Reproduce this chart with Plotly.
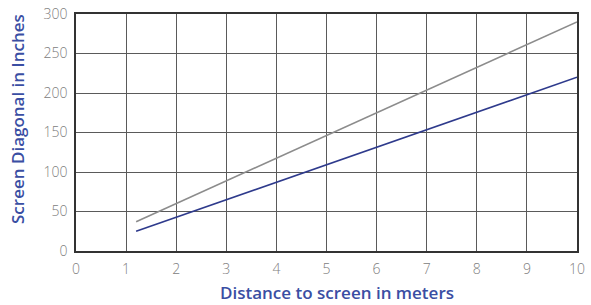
import plotly.graph_objects as go

distance_m = [1.2, 10]
diag_upper = [37, 290]
diag_lower = [25, 220]
x_ticks = [0, 1, 2, 3, 4, 5, 6, 7, 8, 9, 10]
y_ticks = [0, 50, 100, 150, 200, 250, 300]
x_title = "Distance to screen in meters"
y_title = "Screen Diagonal in Inches"

fig = go.Figure()
fig.add_trace(go.Scatter(x=distance_m, y=diag_upper, mode="lines",
                         line=dict(color="#8c8c8c", width=1.6), showlegend=False))
fig.add_trace(go.Scatter(x=distance_m, y=diag_lower, mode="lines",
                         line=dict(color="#2e3a8c", width=1.6), showlegend=False))

title_font = dict(family="Open Sans", size=17, color="#3a4ea3", weight=600)
tick_font = dict(family="Open Sans", size=14, color="#808080", weight=300)

fig.update_layout(
    width=591, height=305,
    margin=dict(l=76, r=14, t=14, b=54),
    paper_bgcolor="white", plot_bgcolor="white",
    xaxis=dict(range=[0, 10], tickvals=x_ticks, showgrid=True, gridcolor="#5a5a5a",
               gridwidth=1, zeroline=False, showline=True, linecolor="#333333",
               linewidth=1.5, mirror=True, ticks="", tickfont=tick_font, automargin=False,
               ticklabelstandoff=4),
    yaxis=dict(range=[0, 300], tickvals=y_ticks, showgrid=True, gridcolor="#5a5a5a",
               gridwidth=1, zeroline=False, showline=True, linecolor="#333333",
               linewidth=1.5, mirror=True, ticks="", tickfont=tick_font, automargin=False,
               ticklabelstandoff=4),
    annotations=[
        dict(text=x_title, font=title_font, xref="paper", yref="paper",
             x=0.521, y=0, yshift=-41, xanchor="center", yanchor="middle", showarrow=False),
        dict(text=y_title, font=title_font, xref="paper", yref="paper", textangle=-90,
             x=0, xshift=-58, y=0.557, xanchor="center", yanchor="middle", showarrow=False),
    ],
)

fig.write_html("out.html", config={"displayModeBar": False},
               post_script="document.body.style.margin='0px';")
